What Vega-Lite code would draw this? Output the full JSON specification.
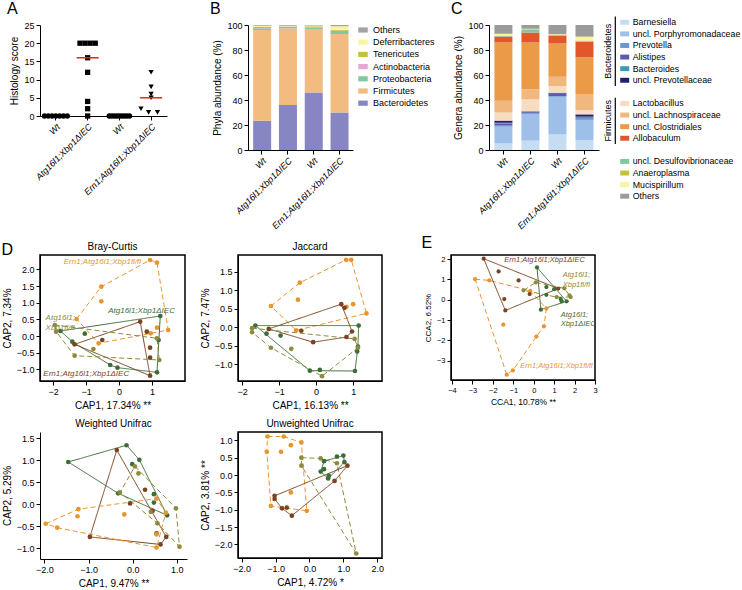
{
"$schema": "https://vega.github.io/schema/vega-lite/v6.json",
"padding": {"left": 1, "top": 1, "right": 0, "bottom": 0},
"config": {
 "font": "Liberation Sans",
 "view": {"stroke": null},
 "axis": {"domainColor": "#000", "domainWidth": 1, "tickColor": "#000", "tickSize": 4, "labelColor": "#000", "labelFont": "Liberation Sans", "labelFontSize": 9, "titleFont": "Liberation Sans", "titleFontSize": 10, "titleFontWeight": "normal", "titleColor": "#000", "grid": false, "labelPadding": 2, "titlePadding": 4, "labelOverlap": false, "labelFlush": false},
 "title": {"fontSize": 16, "fontWeight": "normal", "anchor": "start", "frame": "bounds", "offset": 4, "font": "Liberation Sans", "color": "#000"},
 "style": {"group-title": {"fontWeight": "normal"}},
 "legend": {"labelFont": "Liberation Sans", "labelColor": "#000"}
},
"datasets": {
 "hist": [
  {"g":"1","s":0,"j":-9},{"g":"1","s":0,"j":-6},{"g":"1","s":0,"j":-3},{"g":"1","s":0,"j":0},{"g":"1","s":0,"j":3},{"g":"1","s":0,"j":6},{"g":"1","s":0,"j":9},
  {"g":"2","s":20,"j":-6},{"g":"2","s":20,"j":-2},{"g":"2","s":20,"j":2},{"g":"2","s":20,"j":6},{"g":"2","s":16,"j":0},{"g":"2","s":12,"j":0},{"g":"2","s":4,"j":0},{"g":"2","s":2,"j":0},{"g":"2","s":0,"j":0},
  {"g":"3","s":0,"j":-8},{"g":"3","s":0,"j":-6},{"g":"3","s":0,"j":-4},{"g":"3","s":0,"j":-2},{"g":"3","s":0,"j":0},{"g":"3","s":0,"j":2},{"g":"3","s":0,"j":4},{"g":"3","s":0,"j":6},{"g":"3","s":0,"j":8},
  {"g":"4","s":12,"j":0},{"g":"4","s":8,"j":0},{"g":"4","s":6,"j":0},{"g":"4","s":5,"j":0},{"g":"4","s":2,"j":-8},{"g":"4","s":1,"j":-2},{"g":"4","s":1,"j":5}
 ],
 "phyla": [
  {"g":"1","t":"Bacteroidetes","v":23.5,"k":1},{"g":"1","t":"Firmicutes","v":72.5,"k":2},{"g":"1","t":"Proteobacteria","v":1.5,"k":3},{"g":"1","t":"Actinobacteria","v":0.2,"k":4},{"g":"1","t":"Tenericutes","v":0.8,"k":5},{"g":"1","t":"Deferribacteres","v":1.0,"k":6},{"g":"1","t":"Others","v":0.5,"k":7},
  {"g":"2","t":"Bacteroidetes","v":36,"k":1},{"g":"2","t":"Firmicutes","v":61.3,"k":2},{"g":"2","t":"Proteobacteria","v":1.2,"k":3},{"g":"2","t":"Actinobacteria","v":0.3,"k":4},{"g":"2","t":"Tenericutes","v":0.3,"k":5},{"g":"2","t":"Deferribacteres","v":0.4,"k":6},{"g":"2","t":"Others","v":0.5,"k":7},
  {"g":"3","t":"Bacteroidetes","v":46,"k":1},{"g":"3","t":"Firmicutes","v":50.8,"k":2},{"g":"3","t":"Proteobacteria","v":1.2,"k":3},{"g":"3","t":"Actinobacteria","v":0.2,"k":4},{"g":"3","t":"Tenericutes","v":0.8,"k":5},{"g":"3","t":"Deferribacteres","v":0.6,"k":6},{"g":"3","t":"Others","v":0.4,"k":7},
  {"g":"4","t":"Bacteroidetes","v":30,"k":1},{"g":"4","t":"Firmicutes","v":62.8,"k":2},{"g":"4","t":"Proteobacteria","v":2.4,"k":3},{"g":"4","t":"Actinobacteria","v":0.2,"k":4},{"g":"4","t":"Tenericutes","v":0.6,"k":5},{"g":"4","t":"Deferribacteres","v":3.0,"k":6},{"g":"4","t":"Others","v":1.0,"k":7}
 ],
 "genera": [
  {"g":"1","t":"Barnesiella","v":5.3,"k":1},{"g":"1","t":"uncl. Porphyromonadaceae","v":13.4,"k":2},{"g":"1","t":"Prevotella","v":1.3,"k":3},{"g":"1","t":"Alistipes","v":1.3,"k":4},{"g":"1","t":"Bacteroides","v":0.5,"k":5},{"g":"1","t":"uncl. Prevotellaceae","v":1.7,"k":6},{"g":"1","t":"Lactobacillus","v":6.5,"k":7},{"g":"1","t":"uncl. Lachnospiraceae","v":9.5,"k":8},{"g":"1","t":"uncl. Clostridiales","v":46.5,"k":9},{"g":"1","t":"Allobaculum","v":4.7,"k":10},{"g":"1","t":"uncl. Desulfovibrionaceae","v":0.5,"k":11},{"g":"1","t":"Anaeroplasma","v":0.3,"k":12},{"g":"1","t":"Mucispirillum","v":1.5,"k":13},{"g":"1","t":"Others","v":7.0,"k":14},
  {"g":"2","t":"Barnesiella","v":7.5,"k":1},{"g":"2","t":"uncl. Porphyromonadaceae","v":21.3,"k":2},{"g":"2","t":"Prevotella","v":0.5,"k":3},{"g":"2","t":"Alistipes","v":1.0,"k":4},{"g":"2","t":"Bacteroides","v":0.4,"k":5},{"g":"2","t":"uncl. Prevotellaceae","v":0.3,"k":6},{"g":"2","t":"Lactobacillus","v":9.5,"k":7},{"g":"2","t":"uncl. Lachnospiraceae","v":8.0,"k":8},{"g":"2","t":"uncl. Clostridiales","v":37.5,"k":9},{"g":"2","t":"Allobaculum","v":8.0,"k":10},{"g":"2","t":"uncl. Desulfovibrionaceae","v":2.5,"k":11},{"g":"2","t":"Anaeroplasma","v":0.2,"k":12},{"g":"2","t":"Mucispirillum","v":0.3,"k":13},{"g":"2","t":"Others","v":3.0,"k":14},
  {"g":"3","t":"Barnesiella","v":12.5,"k":1},{"g":"3","t":"uncl. Porphyromonadaceae","v":30.2,"k":2},{"g":"3","t":"Prevotella","v":0.5,"k":3},{"g":"3","t":"Alistipes","v":1.6,"k":4},{"g":"3","t":"Bacteroides","v":0.5,"k":5},{"g":"3","t":"uncl. Prevotellaceae","v":0.6,"k":6},{"g":"3","t":"Lactobacillus","v":5.3,"k":7},{"g":"3","t":"uncl. Lachnospiraceae","v":7.5,"k":8},{"g":"3","t":"uncl. Clostridiales","v":26.6,"k":9},{"g":"3","t":"Allobaculum","v":6.2,"k":10},{"g":"3","t":"uncl. Desulfovibrionaceae","v":0.3,"k":11},{"g":"3","t":"Anaeroplasma","v":0.2,"k":12},{"g":"3","t":"Mucispirillum","v":0.7,"k":13},{"g":"3","t":"Others","v":7.3,"k":14},
  {"g":"4","t":"Barnesiella","v":8.0,"k":1},{"g":"4","t":"uncl. Porphyromonadaceae","v":16.0,"k":2},{"g":"4","t":"Prevotella","v":0.5,"k":3},{"g":"4","t":"Alistipes","v":0.8,"k":4},{"g":"4","t":"Bacteroides","v":1.4,"k":5},{"g":"4","t":"uncl. Prevotellaceae","v":1.8,"k":6},{"g":"4","t":"Lactobacillus","v":3.5,"k":7},{"g":"4","t":"uncl. Lachnospiraceae","v":12.8,"k":8},{"g":"4","t":"uncl. Clostridiales","v":29.3,"k":9},{"g":"4","t":"Allobaculum","v":12.6,"k":10},{"g":"4","t":"uncl. Desulfovibrionaceae","v":0.3,"k":11},{"g":"4","t":"Anaeroplasma","v":0.5,"k":12},{"g":"4","t":"Mucispirillum","v":3.2,"k":13},{"g":"4","t":"Others","v":9.3,"k":14}
 ],
 "gleg": [
  {"t":"Barnesiella"},{"t":"uncl. Porphyromonadaceae"},{"t":"Prevotella"},{"t":"Alistipes"},{"t":"Bacteroides"},{"t":"uncl. Prevotellaceae"},{"t":"Lactobacillus"},{"t":"uncl. Lachnospiraceae"},{"t":"uncl. Clostridiales"},{"t":"Allobaculum"},{"t":"uncl. Desulfovibrionaceae"},{"t":"Anaeroplasma"},{"t":"Mucispirillum"},{"t":"Others"}
 ],
 "gbr": [
  {"grp":"Bacteroidetes","a":"Barnesiella","b":"uncl. Prevotellaceae","m":"Alistipes"},
  {"grp":"Firmicutes","a":"Lactobacillus","b":"Allobaculum","m":"uncl. Clostridiales"}
 ],
 "pts": [
  {"p":"bc","g":"efl","x":-1.29,"y":0.51,"h":1},{"p":"bc","g":"efl","x":-0.54,"y":1.48,"h":2},{"p":"bc","g":"efl","x":0.94,"y":2.28,"h":3},{"p":"bc","g":"efl","x":1.15,"y":2.2,"h":4},{"p":"bc","g":"efl","x":1.49,"y":0.18,"h":5},{"p":"bc","g":"efl","x":-0.62,"y":-0.22,"h":6},{"p":"bc","g":"efl","x":-0.54,"y":1.04},{"p":"bc","g":"efl","x":1.15,"y":0.25},{"p":"bc","g":"efl","x":0.96,"y":0.08},
  {"p":"bc","g":"ko","x":-1.78,"y":0.15,"h":1},{"p":"bc","g":"ko","x":1.25,"y":0.6,"h":2},{"p":"bc","g":"ko","x":1.15,"y":-1.09,"h":3},{"p":"bc","g":"ko","x":-0.05,"y":-0.95,"h":4},{"p":"bc","g":"ko","x":-0.27,"y":-0.87,"h":5},{"p":"bc","g":"ko","x":-1.42,"y":-0.17,"h":6},{"p":"bc","g":"ko","x":-1.04,"y":0.07},{"p":"bc","g":"ko","x":1.2,"y":-0.12},
  {"p":"bc","g":"eko","x":-1.35,"y":-0.25,"h":1},{"p":"bc","g":"eko","x":0.64,"y":0.43,"h":2},{"p":"bc","g":"eko","x":0.94,"y":-1.19,"h":3},{"p":"bc","g":"eko","x":0.84,"y":0.13},{"p":"bc","g":"eko","x":0.94,"y":-0.35},{"p":"bc","g":"eko","x":0.94,"y":-0.65},{"p":"bc","g":"eko","x":-0.51,"y":-0.12},
  {"p":"bc","g":"fl","x":-1.95,"y":0.33,"h":1},{"p":"bc","g":"fl","x":1.15,"y":-0.07,"h":2},{"p":"bc","g":"fl","x":1.22,"y":-0.72,"h":3},{"p":"bc","g":"fl","x":-1.35,"y":-0.59,"h":4},{"p":"bc","g":"fl","x":-1.91,"y":0.13,"h":5},{"p":"bc","g":"fl","x":-0.78,"y":-0.39},

  {"p":"jac","g":"efl","x":-1.22,"y":0.58,"h":1},{"p":"jac","g":"efl","x":-0.44,"y":1.21,"h":2},{"p":"jac","g":"efl","x":0.81,"y":1.83,"h":3},{"p":"jac","g":"efl","x":0.95,"y":1.83,"h":4},{"p":"jac","g":"efl","x":1.36,"y":0.38,"h":5},{"p":"jac","g":"efl","x":-0.54,"y":-0.08,"h":6},{"p":"jac","g":"efl","x":-0.49,"y":0.75},{"p":"jac","g":"efl","x":0.82,"y":0.56},{"p":"jac","g":"efl","x":1.0,"y":0.63},
  {"p":"jac","g":"eko","x":-1.28,"y":-0.04,"h":1},{"p":"jac","g":"eko","x":0.68,"y":0.63,"h":2},{"p":"jac","g":"eko","x":0.97,"y":-0.11,"h":3},{"p":"jac","g":"eko","x":0.82,"y":-0.26,"h":4},{"p":"jac","g":"eko","x":-0.08,"y":-0.4,"h":5},{"p":"jac","g":"eko","x":0.77,"y":0.53},{"p":"jac","g":"eko","x":-0.4,"y":-0.09},
  {"p":"jac","g":"ko","x":-1.64,"y":0.05,"h":1},{"p":"jac","g":"ko","x":1.15,"y":0.05,"h":2},{"p":"jac","g":"ko","x":1.13,"y":-0.52,"h":3},{"p":"jac","g":"ko","x":1.05,"y":-1.18,"h":4},{"p":"jac","g":"ko","x":-0.17,"y":-1.17,"h":5},{"p":"jac","g":"ko","x":1.11,"y":-0.65},{"p":"jac","g":"ko","x":0.1,"y":-1.15},{"p":"jac","g":"ko","x":-0.96,"y":-0.22},{"p":"jac","g":"ko","x":-1.34,"y":-0.17},
  {"p":"jac","g":"fl","x":-1.73,"y":-0.02,"h":1},{"p":"jac","g":"fl","x":1.04,"y":-0.31,"h":2},{"p":"jac","g":"fl","x":1.13,"y":-0.55,"h":3},{"p":"jac","g":"fl","x":0.16,"y":-1.32,"h":4},{"p":"jac","g":"fl","x":-1.22,"y":-0.55,"h":5},{"p":"jac","g":"fl","x":-1.73,"y":-0.13,"h":6},{"p":"jac","g":"fl","x":-0.67,"y":-0.58},

  {"p":"wu","g":"ko","x":-1.46,"y":0.96,"h":1},{"p":"wu","g":"ko","x":-0.14,"y":1.34,"h":2},{"p":"wu","g":"ko","x":0.15,"y":1.01,"h":3},{"p":"wu","g":"ko","x":0.78,"y":-0.25,"h":4},{"p":"wu","g":"ko","x":-0.33,"y":0.25,"h":5},{"p":"wu","g":"ko","x":-0.01,"y":0.91},{"p":"wu","g":"ko","x":0.48,"y":0.23},{"p":"wu","g":"ko","x":0.48,"y":0.04},
  {"p":"wu","g":"eko","x":-0.36,"y":1.23,"h":1},{"p":"wu","g":"eko","x":0.76,"y":-0.74,"h":2},{"p":"wu","g":"eko","x":0.63,"y":-0.91,"h":3},{"p":"wu","g":"eko","x":-0.97,"y":-0.74,"h":4},{"p":"wu","g":"eko","x":0.28,"y":0.33},{"p":"wu","g":"eko","x":-0.06,"y":0.02},{"p":"wu","g":"eko","x":0.45,"y":-0.15},{"p":"wu","g":"eko","x":0.54,"y":-0.66},
  {"p":"wu","g":"fl","x":0.05,"y":0.86,"h":1},{"p":"wu","g":"fl","x":0.98,"y":-0.09,"h":2},{"p":"wu","g":"fl","x":1.06,"y":-0.96,"h":3},{"p":"wu","g":"fl","x":0.56,"y":-0.43,"h":4},{"p":"wu","g":"fl","x":-0.29,"y":0.27,"h":5},{"p":"wu","g":"fl","x":0.13,"y":0.7},{"p":"wu","g":"fl","x":0.41,"y":-0.17},
  {"p":"wu","g":"efl","x":-1.97,"y":-0.44,"h":1},{"p":"wu","g":"efl","x":-1.23,"y":-0.11,"h":2},{"p":"wu","g":"efl","x":0.54,"y":0.13,"h":3},{"p":"wu","g":"efl","x":0.75,"y":-0.19,"h":4},{"p":"wu","g":"efl","x":0.54,"y":-0.98,"h":5},{"p":"wu","g":"efl","x":-1.71,"y":-0.53,"h":6},{"p":"wu","g":"efl","x":-1.25,"y":-0.27},{"p":"wu","g":"efl","x":-0.19,"y":-0.23},{"p":"wu","g":"efl","x":0.54,"y":-0.68},

  {"p":"uu","g":"efl","x":-1.24,"y":1.11,"h":1},{"p":"uu","g":"efl","x":-0.76,"y":1.11,"h":2},{"p":"uu","g":"efl","x":-0.24,"y":0.94,"h":3},{"p":"uu","g":"efl","x":-0.08,"y":-1.03,"h":4},{"p":"uu","g":"efl","x":-1.14,"y":-0.89,"h":5},{"p":"uu","g":"efl","x":-1.26,"y":0.67,"h":6},{"p":"uu","g":"efl","x":-0.55,"y":0.86},{"p":"uu","g":"efl","x":-0.84,"y":0.67},{"p":"uu","g":"efl","x":-0.55,"y":-0.5},
  {"p":"uu","g":"fl","x":-0.24,"y":0.5,"h":1},{"p":"uu","g":"fl","x":0.33,"y":0.48,"h":2},{"p":"uu","g":"fl","x":0.81,"y":0.34,"h":3},{"p":"uu","g":"fl","x":1.38,"y":-2.26,"h":4},{"p":"uu","g":"fl","x":-0.24,"y":0.27,"h":5},
  {"p":"uu","g":"ko","x":0.43,"y":0.4,"h":1},{"p":"uu","g":"ko","x":1.0,"y":0.56,"h":2},{"p":"uu","g":"ko","x":1.03,"y":0.37,"h":3},{"p":"uu","g":"ko","x":0.55,"y":-0.1,"h":4},{"p":"uu","g":"ko","x":0.33,"y":0.1,"h":5},{"p":"uu","g":"ko","x":0.81,"y":0.53},{"p":"uu","g":"ko","x":0.43,"y":0.17},{"p":"uu","g":"ko","x":0.57,"y":-0.02},
  {"p":"uu","g":"eko","x":-1.03,"y":-0.6,"h":1},{"p":"uu","g":"eko","x":1.12,"y":0.27,"h":2},{"p":"uu","g":"eko","x":0.74,"y":-0.17,"h":3},{"p":"uu","g":"eko","x":-0.52,"y":-1.17,"h":4},{"p":"uu","g":"eko","x":-0.81,"y":-0.96,"h":5},{"p":"uu","g":"eko","x":-1.03,"y":-0.69,"h":6},{"p":"uu","g":"eko","x":-0.67,"y":-0.94},

  {"p":"e","g":"efl","x":-2.87,"y":1.01,"h":1},{"p":"e","g":"efl","x":-2.18,"y":0.95,"h":2},{"p":"e","g":"efl","x":-0.17,"y":0.44,"h":3},{"p":"e","g":"efl","x":0.62,"y":-0.43,"h":4},{"p":"e","g":"efl","x":0.5,"y":-1.31,"h":5},{"p":"e","g":"efl","x":0.13,"y":-1.81,"h":6},{"p":"e","g":"efl","x":-1.02,"y":-3.48,"h":7},{"p":"e","g":"efl","x":-1.32,"y":-3.69,"h":8},{"p":"e","g":"efl","x":-1.49,"y":-1.23},
  {"p":"e","g":"ko","x":0.16,"y":1.59,"h":1},{"p":"e","g":"ko","x":1.61,"y":-0.08,"h":2},{"p":"e","g":"ko","x":0.35,"y":-0.49,"h":3},{"p":"e","g":"ko","x":0.62,"y":0.62},{"p":"e","g":"ko","x":0.62,"y":0.24},{"p":"e","g":"ko","x":1.0,"y":0.52},{"p":"e","g":"ko","x":1.32,"y":0.03},{"p":"e","g":"ko","x":1.37,"y":-0.08},
  {"p":"e","g":"eko","x":-2.45,"y":2.02,"h":1},{"p":"e","g":"eko","x":1.2,"y":0.55,"h":2},{"p":"e","g":"eko","x":-1.39,"y":-0.53,"h":3},{"p":"e","g":"eko","x":-1.72,"y":1.39},{"p":"e","g":"eko","x":-0.74,"y":0.95},{"p":"e","g":"eko","x":-0.2,"y":0.28},{"p":"e","g":"eko","x":-1.44,"y":0.03},
  {"p":"e","g":"fl","x":0.1,"y":0.85,"h":1},{"p":"e","g":"fl","x":1.5,"y":0.56,"h":2},{"p":"e","g":"fl","x":1.81,"y":0.13,"h":3},{"p":"e","g":"fl","x":1.12,"y":0.13,"h":4},{"p":"e","g":"fl","x":-0.5,"y":0.46,"h":5},{"p":"e","g":"fl","x":1.75,"y":0.21}
 ],
 "labs": [
  {"p":"bc","g":"efl","x":-1.68,"y":2.23,"t":"Ern1;Atg16l1;Xbp1fl/fl"},
  {"p":"bc","g":"fl","x":-2.23,"y":0.53,"t":"Atg16l1;\nXbp1fl/fl"},
  {"p":"bc","g":"ko","x":-0.33,"y":0.75,"t":"Atg16l1;Xbp1ΔIEC"},
  {"p":"bc","g":"eko","x":-2.3,"y":-1.15,"t":"Ern1;Atg16l1;Xbp1ΔIEC"},
  {"p":"e","g":"eko","x":-1.44,"y":1.97,"t":"Ern1;Atg16l1;Xbp1ΔIEC"},
  {"p":"e","g":"fl","x":1.42,"y":1.2,"t":"Atg16l1;\nXbp1fl/fl"},
  {"p":"e","g":"ko","x":1.32,"y":-0.73,"t":"Atg16l1;\nXbp1ΔIEC"},
  {"p":"e","g":"efl","x":-0.66,"y":-3.25,"t":"Ern1;Atg16l1;Xbp1fl/fl"}
 ]
},
"resolve": {"scale": {"color": "independent", "shape": "independent", "strokeDash": "independent"}},
"spacing": 3,
"vconcat": [
 {
  "resolve": {"scale": {"color": "independent", "shape": "independent"}},
  "spacing": 42,
  "hconcat": [
   {
    "title": {"text": "A", "dx": -3, "fontWeight": "normal"},
    "width": 127, "height": 91,
    "data": {"name": "hist"},
    "encoding": {
     "x": {"field": "g", "type": "nominal", "scale": {"paddingInner": 0, "paddingOuter": 0}, "axis": {"title": null, "labelAngle": -45, "labelFontStyle": "italic", "labelExpr": "datum.value == '1' || datum.value == '3' ? 'Wt' : datum.value == '2' ? 'Atg16l1;Xbp1ΔIEC' : 'Ern1;Atg16l1;Xbp1ΔIEC'"}}
    },
    "layer": [
     {"mark": {"type": "point", "filled": true, "size": 28, "opacity": 1, "color": "#000", "strokeWidth": 0},
      "encoding": {
       "y": {"field": "s", "type": "quantitative", "scale": {"domain": [0, 25], "nice": false}, "axis": {"values": [0,5,10,15,20,25], "title": "Histology score"}},
       "xOffset": {"field": "j", "type": "nominal", "scale": {"domain": [-12,-11,-10,-9,-8,-7,-6,-5,-4,-3,-2,-1,0,1,2,3,4,5,6,7,8,9,10,11,12]}},
       "shape": {"field": "g", "type": "nominal", "scale": {"domain": ["1","2","3","4"], "range": ["circle","square","circle","triangle-down"]}, "legend": null}
      }},
     {"transform": [{"filter": "datum.g == '2' || datum.g == '4'"}],
      "mark": {"type": "tick", "color": "#e3261f", "thickness": 1.5, "size": 22, "orient": "horizontal"},
      "encoding": {"y": {"aggregate": "median", "field": "s", "type": "quantitative", "axis": {"values": [0,5,10,15,20,25], "title": "Histology score"}}}}
    ]
   },
   {
    "resolve": {"scale": {"color": "independent"}},
    "spacing": 15,
    "hconcat": [
     {
      "title": {"text": "B", "dx": -3, "fontWeight": "normal"},
      "width": 105, "height": 125,
      "data": {"name": "phyla"},
      "mark": {"type": "bar"},
      "encoding": {
       "x": {"field": "g", "type": "nominal", "scale": {"paddingInner": 0.33, "paddingOuter": 0.2}, "axis": {"title": null, "labelAngle": -45, "labelFontStyle": "italic", "labelExpr": "datum.value == '1' || datum.value == '3' ? 'Wt' : datum.value == '2' ? 'Atg16l1;Xbp1ΔIEC' : 'Ern1;Atg16l1;Xbp1ΔIEC'"}},
       "y": {"field": "v", "type": "quantitative", "stack": "zero", "scale": {"domain": [0, 100], "nice": false}, "axis": {"values": [0,20,40,60,80,100], "title": "Phyla abundance (%)"}},
       "color": {"field": "t", "type": "nominal",
        "scale": {"domain": ["Others","Deferribacteres","Tenericutes","Actinobacteria","Proteobacteria","Firmicutes","Bacteroidetes"], "range": ["#a3a3a3","#f9f4a2","#c3c23a","#e6a7d2","#80c9a0","#f2bb80","#8886c2"]},
        "legend": {"title": null, "offset": 5, "padding": 0, "symbolType": "M-1,-0.55L1,-0.55L1,0.55L-1,0.55Z", "symbolSize": 90, "symbolStrokeWidth": 0, "symbolOpacity": 1, "labelFontSize": 9, "rowPadding": 2.2, "labelOffset": 5}},
       "order": {"field": "k", "type": "quantitative"}
      }
     },
     {
      "resolve": {"scale": {"color": "independent"}},
      "spacing": 2,
      "hconcat": [
       {
        "title": {"text": "C", "dx": -3, "fontWeight": "normal"},
        "width": 110, "height": 125,
        "data": {"name": "genera"},
        "mark": {"type": "bar"},
        "encoding": {
         "x": {"field": "g", "type": "nominal", "scale": {"paddingInner": 0.33, "paddingOuter": 0.2}, "axis": {"title": null, "labelAngle": -45, "labelFontStyle": "italic", "labelExpr": "datum.value == '1' || datum.value == '3' ? 'Wt' : datum.value == '2' ? 'Atg16l1;Xbp1ΔIEC' : 'Ern1;Atg16l1;Xbp1ΔIEC'"}},
         "y": {"field": "v", "type": "quantitative", "stack": "zero", "scale": {"domain": [0, 100], "nice": false}, "axis": {"values": [0,20,40,60,80,100], "title": "Genera abundance (%)"}},
         "color": {"field": "t", "type": "nominal",
          "scale": {"domain": ["Barnesiella","uncl. Porphyromonadaceae","Prevotella","Alistipes","Bacteroides","uncl. Prevotellaceae","Lactobacillus","uncl. Lachnospiraceae","uncl. Clostridiales","Allobaculum","uncl. Desulfovibrionaceae","Anaeroplasma","Mucispirillum","Others"],
                    "range": ["#c6dcf0","#9dbfe8","#6b95d8","#5b5cb0","#3a9bb2","#1d2170","#f8dcc0","#f0b77f","#eb9b48","#e0572b","#80c9a0","#c3c23a","#f9f4a2","#9b9b9b"]},
          "legend": null},
         "order": {"field": "k", "type": "quantitative"}
        }
       },
       {
        "width": 142, "height": 177,
        "encoding": {
         "y": {"field": "t", "type": "nominal", "axis": null,
          "scale": {"type": "band", "paddingInner": 0, "paddingOuter": 0, "range": [-8.5, 177],
           "domain": ["Barnesiella","uncl. Porphyromonadaceae","Prevotella","Alistipes","Bacteroides","uncl. Prevotellaceae","_a","Lactobacillus","uncl. Lachnospiraceae","uncl. Clostridiales","Allobaculum","_b","uncl. Desulfovibrionaceae","Anaeroplasma","Mucispirillum","Others"]}}
        },
        "layer": [
         {"data": {"name": "gleg"},
          "mark": {"type": "point", "shape": "M-1,-0.55L1,-0.55L1,0.55L-1,0.55Z", "filled": true, "size": 81, "opacity": 1, "strokeWidth": 0},
          "encoding": {
           "x": {"datum": 23.7, "type": "quantitative", "scale": {"domain": [0, 142], "nice": false, "zero": true}, "axis": null},
           "color": {"field": "t", "type": "nominal",
            "scale": {"domain": ["Barnesiella","uncl. Porphyromonadaceae","Prevotella","Alistipes","Bacteroides","uncl. Prevotellaceae","Lactobacillus","uncl. Lachnospiraceae","uncl. Clostridiales","Allobaculum","uncl. Desulfovibrionaceae","Anaeroplasma","Mucispirillum","Others"],
                      "range": ["#c6dcf0","#9dbfe8","#6b95d8","#5b5cb0","#3a9bb2","#1d2170","#f8dcc0","#f0b77f","#eb9b48","#e0572b","#80c9a0","#c3c23a","#f9f4a2","#9b9b9b"]},
            "legend": null}
          }},
         {"data": {"name": "gleg"},
          "mark": {"type": "text", "align": "left", "baseline": "middle", "fontSize": 8.8, "color": "#000"},
          "encoding": {"x": {"datum": 31.7, "type": "quantitative"}, "text": {"field": "t"}}},
         {"data": {"name": "gbr"},
          "mark": {"type": "rule", "strokeWidth": 1.2, "color": "#000"},
          "encoding": {"x": {"datum": 14.3, "type": "quantitative"}, "y": {"field": "a", "type": "nominal", "bandPosition": 0}, "y2": {"field": "b", "bandPosition": 1}}},
         {"data": {"name": "gbr"},
          "mark": {"type": "text", "angle": 270, "fontSize": 9, "align": "center", "baseline": "middle", "color": "#000"},
          "encoding": {"x": {"datum": 6.7, "type": "quantitative"}, "y": {"field": "m", "type": "nominal", "bandPosition": 0}, "text": {"field": "grp"}}}
        ]
       }
      ]
     }
    ]
   }
  ]
 },
 {
  "resolve": {"scale": {"color": "independent", "strokeDash": "independent"}},
  "spacing": 35,
  "hconcat": [
   {
    "title": {"text": "D", "dy": 21, "fontWeight": "normal"},
    "columns": 2,
    "spacing": {"row": 7, "column": 12},
    "resolve": {"scale": {"color": "independent", "strokeDash": "independent"}},
    "concat": [
     {
      "width": 145, "height": 126,
      "view": {"stroke": "#000", "strokeWidth": 1.5},
      "title": {"text": "Bray-Curtis", "fontSize": 10, "fontWeight": "normal", "anchor": "middle", "frame": "group", "offset": 3},
      "encoding": {
       "x": {"field": "x", "type": "quantitative", "scale": {"domain": [-2.4, 2.0], "nice": false, "zero": false}, "axis": {"values": [-2,-1,0,1], "format": "d", "title": "CAP1, 17.34% **"}},
       "y": {"field": "y", "type": "quantitative", "scale": {"domain": [-1.35, 2.43], "nice": false, "zero": false}, "axis": {"values": [-1,-0.5,0,0.5,1,1.5,2], "format": ".1f", "title": "CAP2, 7.34%"}},
       "color": {"field": "g", "type": "nominal", "scale": {"domain": ["fl","ko","efl","eko"], "range": ["#8e8a3c","#3d6e37","#e9952e","#7b4321"]}, "legend": null}
      },
      "layer": [
       {"data": {"name": "pts"}, "transform": [{"filter": "datum.p == 'bc' && isValid(datum.h)"}], "mark": {"type": "line", "interpolate": "linear-closed", "strokeWidth": 1}, "encoding": {"order": {"field": "h", "type": "quantitative"}, "strokeDash": {"field": "g", "type": "nominal", "scale": {"domain": ["fl","ko","efl","eko"], "range": [[5,3],[1,0],[5,3],[1,0]]}, "legend": null}}},
       {"data": {"name": "pts"}, "transform": [{"filter": "datum.p == 'bc'"}], "mark": {"type": "circle", "size": 22, "opacity": 1}},
       {"data": {"name": "labs"}, "transform": [{"filter": "datum.p == 'bc'"}], "mark": {"type": "text", "align": "left", "baseline": "middle", "fontStyle": "italic", "fontSize": 8, "lineBreak": "\n"}, "encoding": {"text": {"field": "t"}}}
      ]
     },
     {
      "width": 144, "height": 126,
      "view": {"stroke": "#000", "strokeWidth": 1.5},
      "title": {"text": "Jaccard", "fontSize": 10, "fontWeight": "normal", "anchor": "middle", "frame": "group", "offset": 3},
      "encoding": {
       "x": {"field": "x", "type": "quantitative", "scale": {"domain": [-2.11, 1.78], "nice": false, "zero": false}, "axis": {"values": [-2,-1,0,1], "format": "d", "title": "CAP1, 16.13% **"}},
       "y": {"field": "y", "type": "quantitative", "scale": {"domain": [-1.45, 1.96], "nice": false, "zero": false}, "axis": {"values": [-1,-0.5,0,0.5,1,1.5], "format": ".1f", "title": "CAP2, 7.47%"}},
       "color": {"field": "g", "type": "nominal", "scale": {"domain": ["fl","ko","efl","eko"], "range": ["#8e8a3c","#3d6e37","#e9952e","#7b4321"]}, "legend": null}
      },
      "layer": [
       {"data": {"name": "pts"}, "transform": [{"filter": "datum.p == 'jac' && isValid(datum.h)"}], "mark": {"type": "line", "interpolate": "linear-closed", "strokeWidth": 1}, "encoding": {"order": {"field": "h", "type": "quantitative"}, "strokeDash": {"field": "g", "type": "nominal", "scale": {"domain": ["fl","ko","efl","eko"], "range": [[5,3],[1,0],[5,3],[1,0]]}, "legend": null}}},
       {"data": {"name": "pts"}, "transform": [{"filter": "datum.p == 'jac'"}], "mark": {"type": "circle", "size": 22, "opacity": 1}}
      ]
     },
     {
      "width": 147, "height": 127,
      "title": {"text": "Weighted Unifrac", "fontSize": 10, "fontWeight": "normal", "anchor": "middle", "frame": "group", "offset": 3},
      "encoding": {
       "x": {"field": "x", "type": "quantitative", "scale": {"domain": [-2.1, 1.23], "nice": false, "zero": false}, "axis": {"values": [-2,-1,0,1], "format": ".1f", "title": "CAP1, 9.47% **"}},
       "y": {"field": "y", "type": "quantitative", "scale": {"domain": [-1.24, 1.64], "nice": false, "zero": false}, "axis": {"values": [-1,-0.5,0,0.5,1,1.5], "format": ".1f", "title": "CAP2, 5.29%"}},
       "color": {"field": "g", "type": "nominal", "scale": {"domain": ["fl","ko","efl","eko"], "range": ["#8e8a3c","#3d6e37","#e9952e","#7b4321"]}, "legend": null}
      },
      "layer": [
       {"data": {"name": "pts"}, "transform": [{"filter": "datum.p == 'wu' && isValid(datum.h)"}], "mark": {"type": "line", "interpolate": "linear-closed", "strokeWidth": 1}, "encoding": {"order": {"field": "h", "type": "quantitative"}, "strokeDash": {"field": "g", "type": "nominal", "scale": {"domain": ["fl","ko","efl","eko"], "range": [[5,3],[1,0],[5,3],[1,0]]}, "legend": null}}},
       {"data": {"name": "pts"}, "transform": [{"filter": "datum.p == 'wu'"}], "mark": {"type": "circle", "size": 22, "opacity": 1}}
      ]
     },
     {
      "width": 144, "height": 126,
      "view": {"stroke": "#000", "strokeWidth": 1.5},
      "title": {"text": "Unweighted Unifrac", "fontSize": 10, "fontWeight": "normal", "anchor": "middle", "frame": "group", "offset": 3},
      "encoding": {
       "x": {"field": "x", "type": "quantitative", "scale": {"domain": [-2.11, 2.14], "nice": false, "zero": false}, "axis": {"values": [-2,-1,0,1,2], "format": ".1f", "title": "CAP1, 4.72% *"}},
       "y": {"field": "y", "type": "quantitative", "scale": {"domain": [-2.39, 1.24], "nice": false, "zero": false}, "axis": {"values": [-2,-1.5,-1,-0.5,0,0.5,1], "format": ".1f", "title": "CAP2, 3.81% **"}},
       "color": {"field": "g", "type": "nominal", "scale": {"domain": ["fl","ko","efl","eko"], "range": ["#8e8a3c","#3d6e37","#e9952e","#7b4321"]}, "legend": null}
      },
      "layer": [
       {"data": {"name": "pts"}, "transform": [{"filter": "datum.p == 'uu' && isValid(datum.h)"}], "mark": {"type": "line", "interpolate": "linear-closed", "strokeWidth": 1}, "encoding": {"order": {"field": "h", "type": "quantitative"}, "strokeDash": {"field": "g", "type": "nominal", "scale": {"domain": ["fl","ko","efl","eko"], "range": [[5,3],[1,0],[5,3],[1,0]]}, "legend": null}}},
       {"data": {"name": "pts"}, "transform": [{"filter": "datum.p == 'uu'"}], "mark": {"type": "circle", "size": 22, "opacity": 1}}
      ]
     }
    ]
   },
   {
    "width": 144, "height": 125,
    "view": {"stroke": "#000", "strokeWidth": 1.5},
    "title": {"text": "E", "dx": -3, "fontWeight": "normal"},
    "encoding": {
     "x": {"field": "x", "type": "quantitative", "scale": {"domain": [-4.05, 3.0], "nice": false, "zero": false}, "axis": {"values": [-4,-3,-2,-1,0,1,2,3], "format": "d", "title": "CCA1, 10.78% **", "labelFontSize": 7.5, "titleFontSize": 8.5}},
     "y": {"field": "y", "type": "quantitative", "scale": {"domain": [-3.95, 2.2], "nice": false, "zero": false}, "axis": {"values": [-3,-2,-1,0,1,2], "format": "d", "title": "CCA2, 6.52%", "labelFontSize": 7.5, "titleFontSize": 8}},
     "color": {"field": "g", "type": "nominal", "scale": {"domain": ["fl","ko","efl","eko"], "range": ["#8e8a3c","#3d6e37","#e9952e","#7b4321"]}, "legend": null}
    },
    "layer": [
     {"data": {"name": "pts"}, "transform": [{"filter": "datum.p == 'e' && isValid(datum.h)"}], "mark": {"type": "line", "interpolate": "linear-closed", "strokeWidth": 1}, "encoding": {"order": {"field": "h", "type": "quantitative"}, "strokeDash": {"field": "g", "type": "nominal", "scale": {"domain": ["fl","ko","efl","eko"], "range": [[5,3],[1,0],[5,3],[1,0]]}, "legend": null}}},
     {"data": {"name": "pts"}, "transform": [{"filter": "datum.p == 'e'"}], "mark": {"type": "circle", "size": 18, "opacity": 1}},
     {"data": {"name": "labs"}, "transform": [{"filter": "datum.p == 'e'"}], "mark": {"type": "text", "align": "left", "baseline": "middle", "fontStyle": "italic", "fontSize": 7.5, "lineBreak": "\n"}, "encoding": {"text": {"field": "t"}}}
    ]
   }
  ]
 }
]
}
